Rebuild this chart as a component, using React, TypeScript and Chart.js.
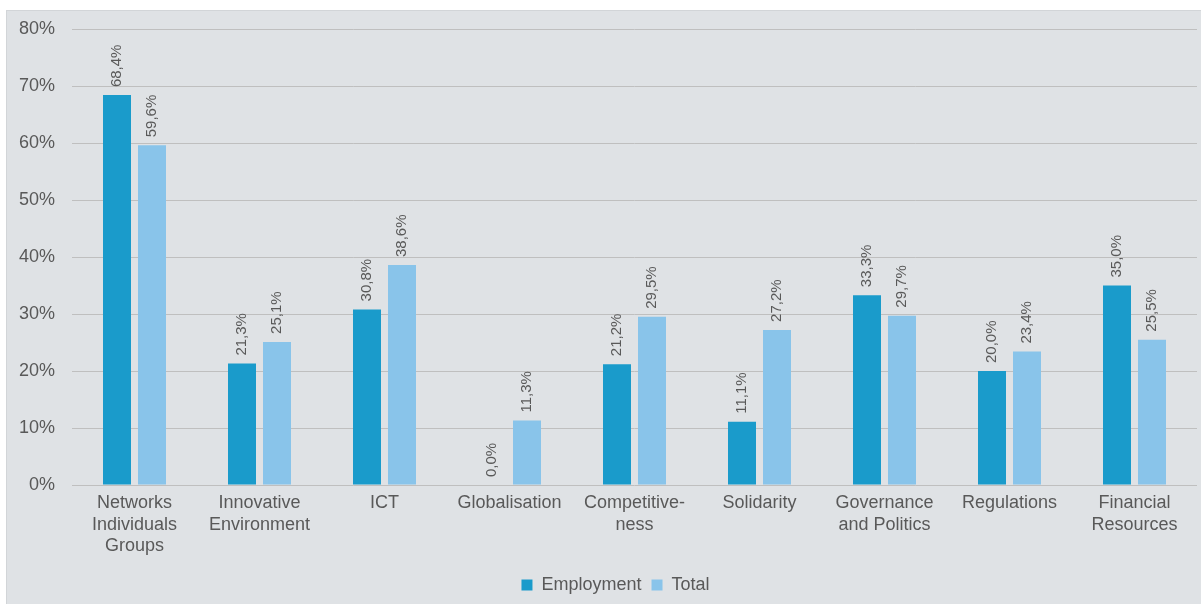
import React, { useEffect, useRef } from "react";
import { Chart, registerables } from "chart.js";

Chart.register(...registerables);

const categories: (string | string[])[] = [
  ["Networks", "Individuals", "Groups"],
  ["Innovative", "Environment"],
  "ICT",
  "Globalisation",
  ["Competitive-", "ness"],
  "Solidarity",
  ["Governance", "and Politics"],
  "Regulations",
  ["Financial", "Resources"],
];
const employment = [68.4, 21.3, 30.8, 0.0, 21.2, 11.1, 33.3, 20.0, 35.0];
const total = [59.6, 25.1, 38.6, 11.3, 29.5, 27.2, 29.7, 23.4, 25.5];
const seriesNames = ["Employment", "Total"];
const yMin = 0;
const yMax = 80;
const yStep = 10;

const TEXT = "#595959";
const FONT = "'Liberation Sans', Arial, sans-serif";

const valueLabels = {
  id: "valueLabels",
  afterLayout(chart: any) {
    if (chart.legend) {
      chart.legend.left += 14;
      chart.legend.right += 14;
    }
  },
  afterDatasetsDraw(chart: any) {
    const ctx = chart.ctx;
    ctx.save();
    ctx.fillStyle = TEXT;
    ctx.font = `15px ${FONT}`;
    ctx.textAlign = "left";
    ctx.textBaseline = "middle";
    chart.data.datasets.forEach((ds: any, di: number) => {
      const meta = chart.getDatasetMeta(di);
      meta.data.forEach((el: any, i: number) => {
        const v = ds.data[i] as number;
        const txt = v.toFixed(1).replace(".", ",") + "%";
        ctx.save();
        ctx.translate(el.x, el.y - 8);
        ctx.rotate(-Math.PI / 2);
        ctx.fillText(txt, 0, 0);
        ctx.restore();
      });
    });
    ctx.restore();
  },
};

export default function App() {
  const ref = useRef<HTMLCanvasElement | null>(null);
  useEffect(() => {
    document.body.style.margin = "0";
    const canvas = ref.current!;
    const chart = new Chart(canvas, {
      type: "bar",
      data: {
        labels: categories,
        datasets: [
          {
            label: seriesNames[0],
            data: employment,
            backgroundColor: "#1a9bcb",
            categoryPercentage: 0.56,
            barPercentage: 0.8,
          },
          {
            label: seriesNames[1],
            data: total,
            backgroundColor: "#89c4ea",
            categoryPercentage: 0.56,
            barPercentage: 0.8,
          },
        ],
      },
      options: {
        responsive: false,
        animation: false,
        layout: { padding: { top: 19, right: 4, left: 0, bottom: 0 } },
        font: { family: FONT },
        plugins: {
          tooltip: { enabled: false },
          legend: {
            position: "bottom",
            labels: {
              color: TEXT,
              boxWidth: 11,
              boxHeight: 11,
              padding: 10,
              font: { size: 18, family: FONT },
            },
          },
        },
        scales: {
          x: {
            grid: { display: false, drawTicks: false },
            border: { display: false },
            ticks: {
              color: TEXT,
              padding: 8,
              maxRotation: 0,
              autoSkip: false,
              font: { size: 18, family: FONT, lineHeight: 1.17 },
            },
            afterFit(scale: any) {
              scale.height = 81;
              scale.paddingTop = 0;
            },
          },
          y: {
            min: yMin,
            max: yMax,
            grid: { color: "#bfbfbf", drawTicks: false, lineWidth: 1 },
            border: { display: false },
            ticks: {
              stepSize: yStep,
              color: TEXT,
              padding: 17,
              font: { size: 18, family: FONT },
              callback: (v: any) => `${v}%`,
            },
            afterFit(scale: any) {
              scale.width = 66;
              scale.paddingTop = 0;
              scale.paddingBottom = 0;
            },
          },
        },
      },
      plugins: [valueLabels],
    });
    return () => chart.destroy();
  }, []);
  return (
    <div>
      <div
        style={{
          position: "absolute",
          left: 6,
          top: 10,
          width: 1195,
          height: 594,
          boxSizing: "border-box",
          background: "#dfe2e5",
          borderLeft: "1px solid #d2d5d8",
          borderTop: "1px solid #d2d5d8",
        }}
      />
      <canvas
        ref={ref}
        width={1195}
        height={594}
        style={{ position: "absolute", left: 6, top: 10, width: 1195, height: 594 }}
      />
    </div>
  );
}
